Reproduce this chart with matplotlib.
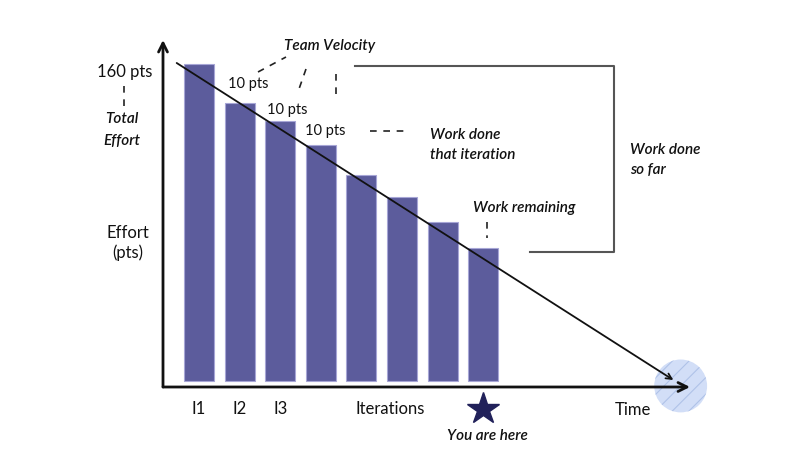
# Burndown chart: effort remaining per iteration
import numpy as np
import matplotlib.pyplot as plt
from matplotlib.lines import Line2D

plt.rcParams['font.family'] = ['Lato', 'DejaVu Sans']

# data
iterations = [1, 2, 3, 4, 5, 6, 7, 8]
remaining = [160, 140.5, 131, 119, 104, 93, 80, 67]
tick_labels = ['I1', 'I2', 'I3']
ideal_x = [0.45, 12.68]   # ideal burn line, start -> end in time
ideal_y = [160.5, 0.5]
end_time = 12.86          # where the work should be finished
current = 8               # "you are here"

W, H = 800, 473
fig = plt.figure(figsize=(W / 100, H / 100), dpi=100)
ax = fig.add_axes([163 / W, 1 - 387 / H, 527 / W, 347 / H])
ax.set_xlim(0.113, 13.09)
ax.set_ylim(-3.03, 172.1)
ax.axis('off')


def px(x, y):
    return x / W, 1 - y / H


hand = dict(family=['Lato', 'DejaVu Sans'], style='italic', weight='semibold', color='#111')
plain = dict(color='#111')

# bars
ax.bar(iterations, remaining, width=0.74, color='#5c5c9c', edgecolor='#a7a6d6', linewidth=0.8, zorder=2)

# axes arrows
arrow = dict(arrowstyle='->', lw=2, color='#111', shrinkA=0, shrinkB=0, mutation_scale=16)
ax.annotate('', xy=(0, 1), xytext=(0, 0), xycoords='axes fraction', arrowprops=arrow, zorder=5)
ax.annotate('', xy=(1, 0), xytext=(0, 0), xycoords='axes fraction', arrowprops=arrow, zorder=5)

# target circle
plt.rcParams['hatch.linewidth'] = 0.8
ax.scatter([end_time], [-2.5], s=1450, marker='o', facecolor='#d2def7', edgecolor='#afc2e8',
           linewidth=0, hatch='//', clip_on=False, zorder=3)

# ideal line
ax.annotate('', xy=(ideal_x[1], ideal_y[1]), xytext=(ideal_x[0], ideal_y[0]),
            arrowprops=dict(arrowstyle='->', lw=1.3, color='#111', shrinkA=0, shrinkB=0, mutation_scale=10),
            zorder=4)

# star
ax.plot([current], [-14.3], marker='*', markersize=24, color='#21215a', clip_on=False, zorder=5)

# tick labels
for i, lab in enumerate(tick_labels):
    ax.annotate(lab, xy=(iterations[i], 0), xycoords=('data', 'axes fraction'), xytext=(0, -16),
                textcoords='offset points', ha='center', va='center', fontsize=12, **plain)

fig.text(*px(390, 409), 'Iterations', ha='center', va='center', fontsize=12, **plain)
fig.text(*px(633, 410), 'Time', ha='center', va='center', fontsize=12, **plain)
fig.text(*px(487, 436), 'You are here', ha='center', va='center', fontsize=11, **hand)

# left side labels
fig.text(*px(152, 72), '160 pts', ha='right', va='center', fontsize=12, **plain)
fig.text(*px(122, 130), 'Total\nEffort', ha='center', va='center', fontsize=11, linespacing=1.7, **hand)
fig.text(*px(128, 243), 'Effort\n(pts)', ha='center', va='center', fontsize=12, linespacing=1.25, **plain)

# velocity labels
fig.text(*px(228, 84), '10 pts', ha='left', va='center', fontsize=10.5, **plain)
fig.text(*px(267, 110), '10 pts', ha='left', va='center', fontsize=10.5, **plain)
fig.text(*px(305, 131), '10 pts', ha='left', va='center', fontsize=10.5, **plain)
fig.text(*px(330, 46), 'Team Velocity', ha='center', va='center', fontsize=11, **hand)

fig.text(*px(430, 145), 'Work done\nthat iteration', ha='left', va='center', fontsize=11,
         linespacing=1.6, **hand)
fig.text(*px(630, 160), 'Work done\nso far', ha='left', va='center', fontsize=11, linespacing=1.6, **hand)
fig.text(*px(473, 208), 'Work remaining', ha='left', va='center', fontsize=11, **hand)


def fline(xs, ys, **kw):
    pts = [px(x, y) for x, y in zip(xs, ys)]
    fig.add_artist(Line2D([p[0] for p in pts], [p[1] for p in pts], transform=fig.transFigure, **kw))


dash = dict(color='#222', lw=1.2, linestyle=(0, (4, 4)))
fline([124, 124], [86, 106], **dash)
fline([258, 286], [72, 57], **dash)
fline([306, 299], [69, 89], **dash)
fline([336, 336], [74, 94], **dash)
fline([370, 404], [131, 131], **dash)
fline([487, 487], [222, 238], **dash)

# bracket for work done so far
fline([355, 614, 614, 530], [66, 66, 252, 252], color='#555', lw=1.5)

fig.savefig('out.png', dpi=100)
